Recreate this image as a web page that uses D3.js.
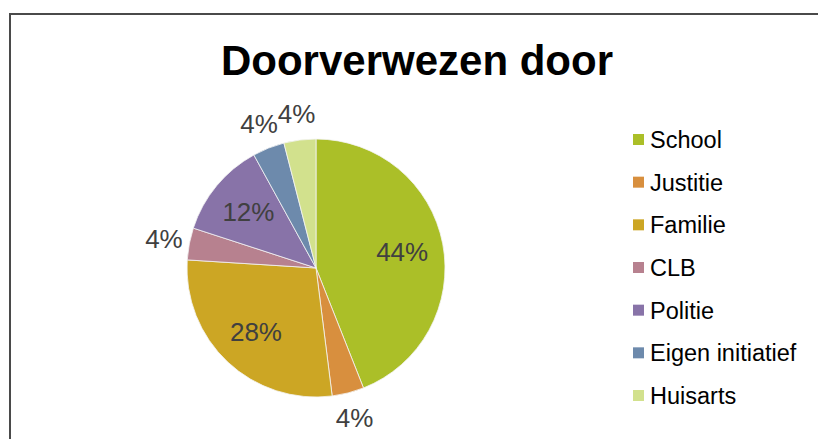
<!DOCTYPE html>
<html>
<head>
<meta charset="utf-8">
<script src="https://cdn.jsdelivr.net/npm/d3@7"></script>
<style>
  html, body { margin: 0; padding: 0; background: #fff; }
  svg { display: block; }
</style>
</head>
<body>
<svg id="chart" width="818" height="439"></svg>
<script>
// ---- data ----
const title = "Doorverwezen door";
const categories = ["School", "Justitie", "Familie", "CLB", "Politie", "Eigen initiatief", "Huisarts"];
const counts = [11, 1, 7, 1, 3, 1, 1];
const colors = ["#ABBF28", "#D88F3E", "#CCA624", "#B7818F", "#8873A8", "#6D8AAC", "#D2E18D"];

// ---- layout ----
const W = 818, H = 439;
const cx = 316, cy = 268, R = 129;
const svg = d3.select("#chart");
const font = "'Liberation Sans', Arial, sans-serif";

// chart border (extends beyond the right and bottom edges)
svg.append("rect")
  .attr("x", 10).attr("y", 14)
  .attr("width", W + 20).attr("height", H + 20)
  .attr("fill", "#fff")
  .attr("stroke", "#4a4a4a").attr("stroke-width", 2);

// title
svg.append("text")
  .attr("x", 417).attr("y", 75)
  .attr("text-anchor", "middle")
  .attr("font-family", font).attr("font-weight", "bold")
  .attr("font-size", 42).attr("fill", "#000")
  .text(title);

const total = d3.sum(counts);
const data = categories.map((c, i) => ({ name: c, value: counts[i], color: colors[i] }));

const pie = d3.pie().value(d => d.value).sort(null);
const arcs = pie(data);
const arc = d3.arc().innerRadius(0).outerRadius(R);
const inArc = d3.arc().innerRadius(R * 0.68).outerRadius(R * 0.68);
const outArc = d3.arc().innerRadius(R * 1.2).outerRadius(R * 1.2);

const g = svg.append("g").attr("transform", `translate(${cx},${cy})`);
g.selectAll("path.slice").data(arcs).join("path")
  .attr("class", "slice")
  .attr("d", arc)
  .attr("fill", d => d.data.color)
  .attr("stroke", "#f4f4f4").attr("stroke-width", 0.8);

const pct = v => Math.round(v / total * 100) + "%";
g.selectAll("text.lbl").data(arcs).join("text")
  .attr("class", "lbl")
  .attr("transform", d => {
    const big = d.data.value / total >= 0.1;
    const [x, y] = (big ? inArc : outArc).centroid(d);
    return `translate(${x},${y})`;
  })
  .attr("text-anchor", "middle")
  .attr("dominant-baseline", "central")
  .attr("font-family", font)
  .attr("font-size", 26)
  .attr("fill", "#404040")
  .text(d => pct(d.data.value));

// legend
const legendY = d3.scalePoint().domain(categories).range([140, 396]);
const lg = svg.append("g");
const items = lg.selectAll("g").data(data).join("g")
  .attr("transform", d => `translate(633,${legendY(d.name)})`);
items.append("rect")
  .attr("x", 0).attr("y", -6)
  .attr("width", 11).attr("height", 11)
  .attr("fill", d => d.color);
items.append("text")
  .attr("x", 17).attr("y", 0)
  .attr("dominant-baseline", "central")
  .attr("font-family", font)
  .attr("font-size", 23.5)
  .attr("fill", "#000")
  .text(d => d.name);
</script>
</body>
</html>
